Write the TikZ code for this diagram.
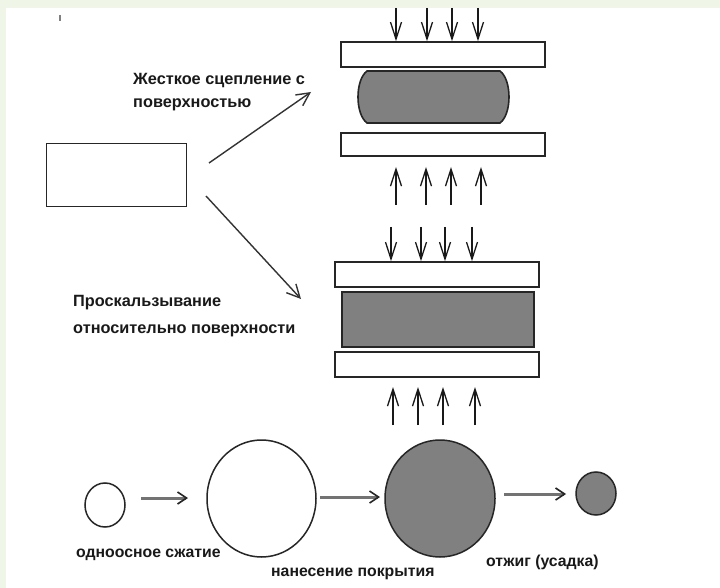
\documentclass[tikz,border=0pt]{standalone}
\usepackage{fontspec}
\setmainfont{Liberation Sans}
\usetikzlibrary{arrows.meta,shapes.geometric}
\definecolor{bggreen}{RGB}{239,246,232}
\definecolor{fillgray}{RGB}{128,128,128}
\tikzset{
  plate/.style={draw=black!85, line width=1.6pt, fill=white, rectangle, inner sep=0pt},
  solid block/.style={draw=black!85, line width=1.6pt, fill=fillgray, rectangle, inner sep=0pt},
  pressarrow/.style={draw=black!90, line width=1.2pt, -{Straight Barb[length=17pt,width=11pt,line width=1.3pt]}},
  diagarrow/.style={draw=black!80, line width=1.4pt, -{Straight Barb[length=13pt,width=13pt,line width=1.4pt]}},
  flowarrow/.style={draw=black!55, line width=3pt, -{Straight Barb[length=9pt,width=12pt,line width=1.6pt,color=black!85]}},
  ball/.style={ellipse, draw=black!85, line width=1.5pt, inner sep=0pt},
  lbl/.style={font=\fontsize{16.3}{20}\selectfont\bfseries, text=black!90, inner sep=0pt, anchor=base west},
  blbl/.style={font=\fontsize{15.8}{20}\selectfont\bfseries, text=black!90, inner sep=0pt, anchor=base west}
}
\begin{document}
\begin{tikzpicture}[x=1pt,y=-1pt]
\useasboundingbox (0,0) rectangle (720,588);
\fill[bggreen] (0,0) rectangle (720,588);
\fill[white] (6,8) rectangle (720,588);
% speck
\draw[black!50, line width=1.2pt] (60,15) -- (60,21);

% left specimen
\node[plate, minimum width=140pt, minimum height=63pt] (spec) at (116.5,175) {};

% ---- press 1 (rigid adhesion)
\node[plate, minimum width=204pt, minimum height=25pt] (p1top) at (443,54.5) {};
\node[plate, minimum width=204pt, minimum height=23pt] (p1bot) at (443,144.5) {};
\draw[draw=black!85, line width=1.6pt, fill=fillgray]
  (367,71) -- (500,71) .. controls (512,80) and (512,114) .. (500,123)
  -- (367,123) .. controls (355,114) and (355,80) .. (367,71) -- cycle;
\foreach \x [count=\i] in {396,427,452,478} {
  \coordinate (da\i) at (\x,8);
  \draw[pressarrow] (da\i) -- (da\i |- p1top.north);
}
\foreach \x [count=\i] in {396,426,451,481} {
  \coordinate (ua\i) at (\x,205);
  \draw[pressarrow] (ua\i) -- (\x,167);
}

% ---- press 2 (slipping)
\node[plate, minimum width=204pt, minimum height=25pt] (p2top) at (437,274.5) {};
\node[solid block, minimum width=192pt, minimum height=55pt] (p2mid) at (438,319.5) {};
\node[plate, minimum width=204pt, minimum height=25pt] (p2bot) at (437,364.5) {};
\foreach \x [count=\i] in {391,421,445,472} {
  \coordinate (db\i) at (\x,227);
  \draw[pressarrow] (db\i) -- (db\i |- p2top.north);
}
\foreach \x [count=\i] in {393,418,443,475} {
  \coordinate (ub\i) at (\x,425);
  \draw[pressarrow] (ub\i) -- (\x,387);
}

% diagonal arrows
\coordinate (s1) at (209,163);
\coordinate (e1) at (311,92);
\coordinate (s2) at (206,196);
\coordinate (e2) at (301,299);
\draw[diagarrow] (s1) -- (e1);
\draw[diagarrow] (s2) -- (e2);

% labels
\node[lbl] (t1a) at (133,85) {Жесткое сцепление с};
\node[lbl] (t1b) at (133,108) {поверхностью};
\node[lbl] (t2a) at (73,306) {Проскальзывание};
\node[lbl] (t2b) at (73,333) {относительно поверхности};

% ---- bottom row
\node[ball, fill=white, minimum width=40pt, minimum height=44pt] (c1) at (105,505) {};
\node[ball, fill=white, minimum width=109pt, minimum height=117pt] (c2) at (261.5,498.5) {};
\node[ball, fill=fillgray, minimum width=110pt, minimum height=117pt] (c3) at (440,498.5) {};
\node[ball, fill=fillgray, minimum width=40pt, minimum height=43pt] (c4) at (596,493.5) {};
\coordinate (f1s) at (141,498); \coordinate (f1e) at (188,498);
\coordinate (f2s) at (320,497); \coordinate (f2e) at (380,497);
\coordinate (f3s) at (504,494); \coordinate (f3e) at (566,494);
\draw[flowarrow] (f1s) -- (f1e);
\draw[flowarrow] (f2s) -- (f2e);
\draw[flowarrow] (f3s) -- (f3e);

\node[blbl] (b1) at (76,557) {одноосное сжатие};
\node[blbl] (b2) at (271,576) {нанесение покрытия};
\node[blbl] (b3) at (486,566) {отжиг (усадка)};
\end{tikzpicture}
\end{document}
